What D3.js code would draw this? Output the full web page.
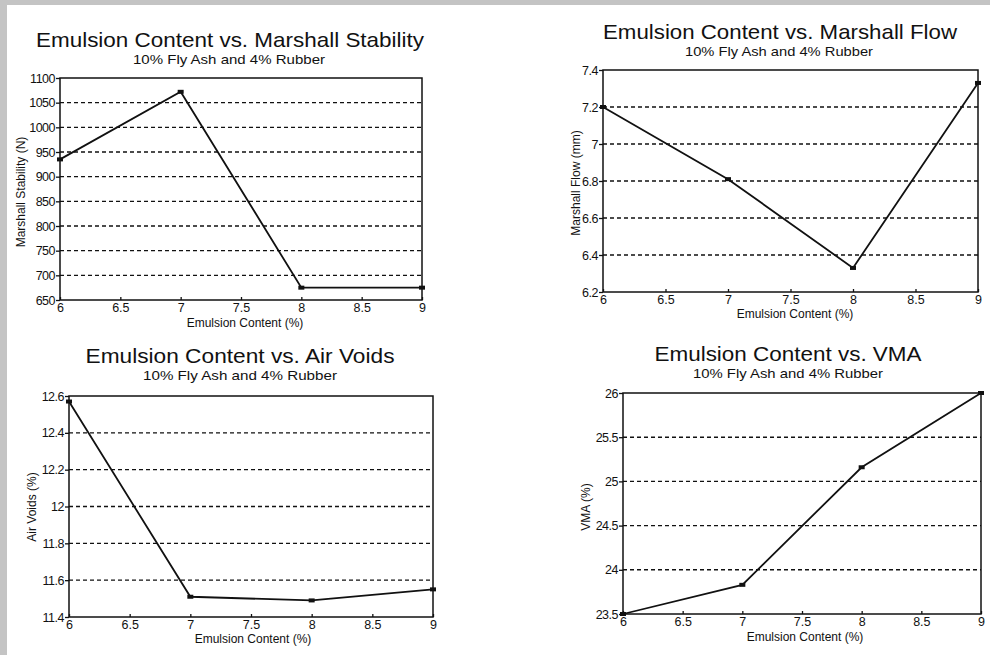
<!DOCTYPE html>
<html><head><meta charset="utf-8">
<script src="https://cdn.jsdelivr.net/npm/d3@7"></script>
<style>
html,body{margin:0;padding:0;background:#fff;}
svg{display:block;font-family:"Liberation Sans",Arial,Helvetica,sans-serif;}
</style></head>
<body><svg id="c" width="990" height="655"></svg>
<script>
// ---- data ----
const emulsion = [6, 7, 8, 9];
const xTicks = [6, 6.5, 7, 7.5, 8, 8.5, 9];
const stability = [935, 1072, 675, 675];
const stabilityTicks = [650, 700, 750, 800, 850, 900, 950, 1000, 1050, 1100];
const flow = [7.2, 6.81, 6.33, 7.33];
const flowTicks = [6.2, 6.4, 6.6, 6.8, 7, 7.2, 7.4];
const airVoids = [12.57, 11.51, 11.49, 11.55];
const airVoidsTicks = [11.4, 11.6, 11.8, 12, 12.2, 12.4, 12.6];
const vma = [23.5, 23.83, 25.16, 26];
const vmaTicks = [23.5, 24, 24.5, 25, 25.5, 26];
const titles = ["Emulsion Content vs. Marshall Stability", "Emulsion Content vs. Marshall Flow",
                "Emulsion Content vs. Air Voids", "Emulsion Content vs. VMA"];
const subtitle = "10% Fly Ash and 4% Rubber";
const xLabel = "Emulsion Content (%)";
const yLabels = ["Marshall Stability (N)", "Marshall Flow (mm)", "Air Voids (%)", "VMA (%)"];

// ---- layout ----
const panels = [
  {values: stability, ticks: stabilityTicks, box: {l: 60, r: 422, t: 78, b: 300},
   title: {x: 230, y: 47, w: 388}, sub: {x: 229, y: 64, w: 192}, xl: {x: 245, y: 327}, yl: {x: 25, y: 192}},
  {values: flow, ticks: flowTicks, box: {l: 603, r: 978, t: 70, b: 292},
   title: {x: 780, y: 39, w: 354}, sub: {x: 779, y: 56, w: 188}, xl: {x: 795, y: 318}, yl: {x: 580, y: 183}},
  {values: airVoids, ticks: airVoidsTicks, box: {l: 69, r: 433, t: 396, b: 617},
   title: {x: 240, y: 363, w: 309}, sub: {x: 240, y: 380, w: 194}, xl: {x: 253, y: 643}, yl: {x: 36, y: 507}},
  {values: vma, ticks: vmaTicks, box: {l: 623, r: 981, t: 393, b: 614},
   title: {x: 788, y: 361, w: 267}, sub: {x: 788, y: 378, w: 190}, xl: {x: 805, y: 641}, yl: {x: 590, y: 507}}
];

const svg = d3.select("#c");
svg.append("rect").attr("width", 990).attr("height", 655).attr("fill", "#fff");
svg.append("rect").attr("x", 0).attr("y", 0).attr("width", 990).attr("height", 5).attr("fill", "#c4c4c4");
svg.append("rect").attr("x", 0).attr("y", 0).attr("width", 7).attr("height", 655).attr("fill", "#c4c4c4");

const fmt = v => String(+v.toFixed(2));

panels.forEach((p, i) => {
  const b = p.box;
  const g = svg.append("g");
  const x = d3.scaleLinear().domain([6, 9]).range([b.l, b.r]);
  const y = d3.scaleLinear().domain(d3.extent(p.ticks)).range([b.b, b.t]);

  // gridlines
  g.selectAll("line.grid").data(p.ticks.slice(1, -1)).join("line")
    .attr("x1", b.l).attr("x2", b.r).attr("y1", d => y(d)).attr("y2", d => y(d))
    .attr("stroke", "#111").attr("stroke-width", 1.4).attr("stroke-dasharray", "4,3");

  // frame
  g.append("rect").attr("x", b.l).attr("y", b.t).attr("width", b.r - b.l).attr("height", b.b - b.t)
    .attr("fill", "none").attr("stroke", "#111").attr("stroke-width", 1.5);

  // y axis
  const ya = d3.axisLeft(y).tickValues(p.ticks).tickFormat(fmt).tickSize(4).tickPadding(1);
  const yg = g.append("g").attr("transform", `translate(${b.l},0)`).call(ya);
  yg.select(".domain").remove();
  yg.selectAll("line").attr("stroke", "#111").attr("stroke-width", 1.3);
  yg.selectAll("text").attr("font-size", 12.5).attr("fill", "#111")
    .attr("font-family", "Liberation Sans, Arial, sans-serif").style("letter-spacing", "-0.5px");

  // x axis (ticks point inward, labels just below)
  const xa = d3.axisBottom(x).tickValues(xTicks).tickFormat(fmt).tickSizeInner(-3).tickSizeOuter(0).tickPadding(3);
  const xg = g.append("g").attr("transform", `translate(0,${b.b})`).call(xa);
  xg.select(".domain").remove();
  xg.selectAll("line").attr("stroke", "#111").attr("stroke-width", 1.3);
  xg.selectAll("text").attr("font-size", 12.5).attr("fill", "#111")
    .attr("font-family", "Liberation Sans, Arial, sans-serif");

  // data line
  const pts = emulsion.map((e, k) => [e, p.values[k]]);
  g.append("path").datum(pts)
    .attr("d", d3.line().x(d => x(d[0])).y(d => y(d[1])))
    .attr("fill", "none").attr("stroke", "#111").attr("stroke-width", 1.8);
  g.selectAll("rect.mk").data(pts).join("rect")
    .attr("x", d => x(d[0]) - 3).attr("y", d => y(d[1]) - 2)
    .attr("width", 6).attr("height", 4).attr("fill", "#111");

  // titles
  g.append("text").attr("x", p.title.x).attr("y", p.title.y).attr("text-anchor", "middle")
    .attr("font-size", 21).attr("fill", "#111").attr("textLength", p.title.w)
    .attr("lengthAdjust", "spacingAndGlyphs").text(titles[i]);
  g.append("text").attr("x", p.sub.x).attr("y", p.sub.y).attr("text-anchor", "middle")
    .attr("font-size", 13.5).attr("fill", "#111").attr("textLength", p.sub.w)
    .attr("lengthAdjust", "spacingAndGlyphs").text(subtitle);
  g.append("text").attr("x", p.xl.x).attr("y", p.xl.y).attr("text-anchor", "middle")
    .attr("font-size", 12).attr("fill", "#111").text(xLabel);
  g.append("text").attr("transform", `translate(${p.yl.x},${p.yl.y}) rotate(-90)`)
    .attr("text-anchor", "middle").attr("font-size", 12).attr("fill", "#111").text(yLabels[i]);
});
</script></body></html>
